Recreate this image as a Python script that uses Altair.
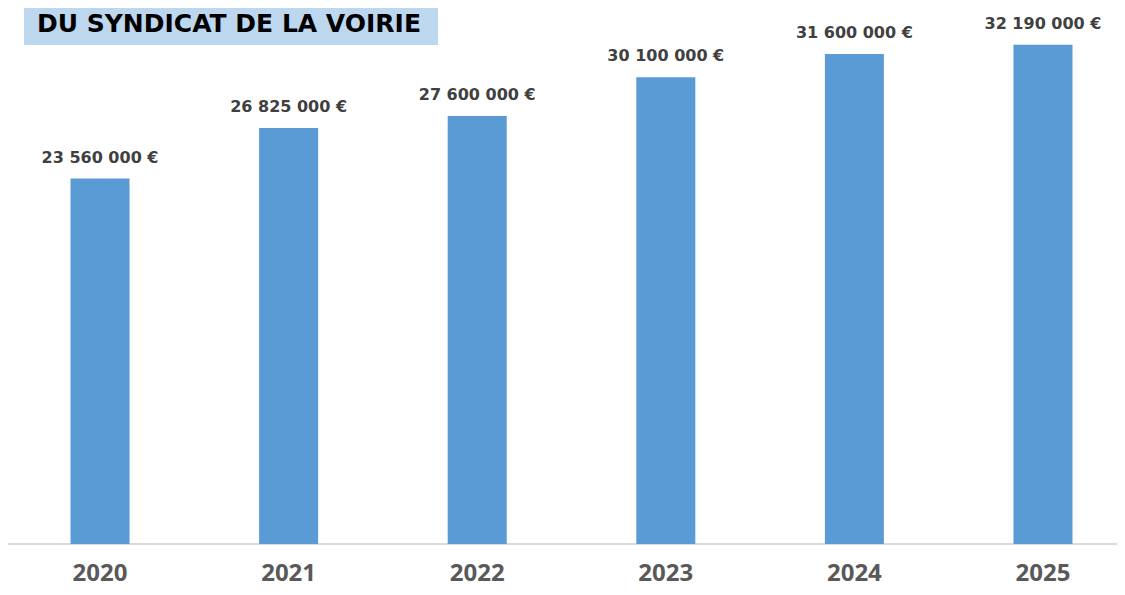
import altair as alt
import pandas as pd

years = ["2020", "2021", "2022", "2023", "2024", "2025"]
values = [23560000, 26825000, 27600000, 30100000, 31600000, 32190000]
title_text = "DU SYNDICAT DE LA VOIRIE"

labels = [f"{v:,}".replace(",", " ") + " €" for v in values]
df = pd.DataFrame({"year": years, "value": values, "label": labels})

PADL = 18
W, H = 1091, 536
FONT = "Open Sans"
FONT2 = "DejaVu Sans"
YMAX = 34560000

xscale = alt.Scale(domain=years, paddingInner=0.687, paddingOuter=0.236)
yscale = alt.Scale(domain=[0, YMAX])
xaxis = alt.Axis(title=None, domain=False, ticks=False, grid=False,
                 labelAngle=0, labelFont=FONT, labelFontSize=24,
                 labelFontWeight="bold", labelColor="#595959",
                 labelBaseline="alphabetic", labelPadding=36)

base = alt.Chart(df)

bars = base.mark_bar(color="#5B9BD5").encode(
    x=alt.X("year:N", scale=xscale, axis=xaxis),
    y=alt.Y("value:Q", scale=yscale, axis=None),
)

text = base.mark_text(font=FONT2, fontSize=16, fontWeight="bold", color="#404040",
                      baseline="alphabetic", align="center", dy=-16).encode(
    x=alt.X("year:N", scale=xscale, axis=xaxis),
    y=alt.Y("value:Q", scale=yscale, axis=None),
    text="label:N",
)

deco = pd.DataFrame({"t": [title_text], "z": [0], "top": [YMAX], "bot": [32170000], "mid": [33530000]})

baseline = alt.Chart(deco).mark_rule(color="#D9D9D9", strokeWidth=2).encode(
    y=alt.Y("z:Q", scale=yscale, axis=None),
    x=alt.value(-PADL), x2=alt.value(W),
)

box = alt.Chart(deco).mark_rect(color="#BDD7EE").encode(
    y=alt.Y("top:Q", scale=yscale, axis=None), y2="bot:Q",
    x=alt.value(-2), x2=alt.value(412),
)
title = alt.Chart(deco).mark_text(
    font=FONT2, fontSize=25, fontWeight="bold", color="#000000", align="left", baseline="middle"
).encode(x=alt.value(11), y=alt.Y("mid:Q", scale=yscale, axis=None), text="t:N")

chart = alt.layer(box, title, baseline, bars, text).properties(
    width=W, height=H,
    autosize=alt.AutoSizeParams(type="none"),
    padding={"left": PADL, "top": 0, "right": 0, "bottom": 43},
).configure_view(stroke=None)

chart.save("out.html", embed_options={"renderer": "svg", "actions": False})
